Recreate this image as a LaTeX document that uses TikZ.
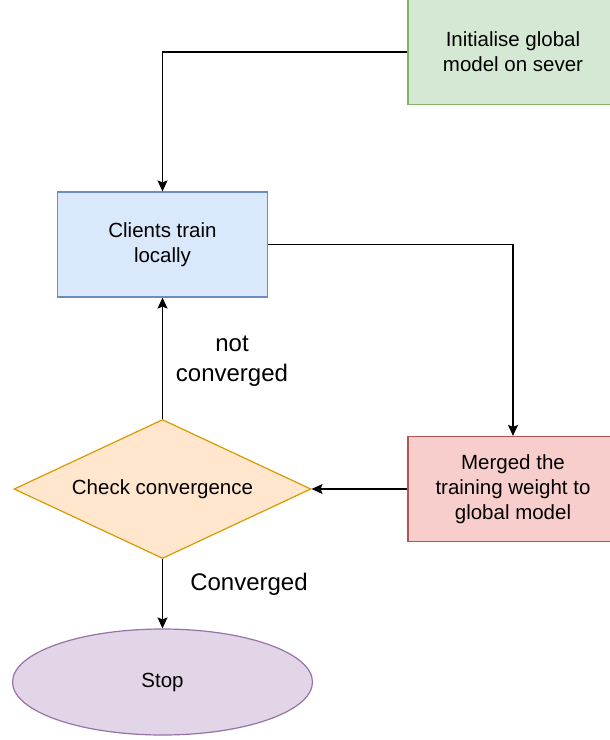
\documentclass[tikz,border=0pt]{standalone}
\usepackage{fontspec}
\setmainfont{Liberation Sans}
\usetikzlibrary{shapes.geometric,arrows.meta}

\definecolor{initfill}{HTML}{D5E8D4}
\definecolor{initline}{HTML}{82B366}
\definecolor{clientfill}{HTML}{DAE8FC}
\definecolor{clientline}{HTML}{6C8EBF}
\definecolor{mergefill}{HTML}{F8CECC}
\definecolor{mergeline}{HTML}{B85450}
\definecolor{checkfill}{HTML}{FFE6CC}
\definecolor{checkline}{HTML}{D79B00}
\definecolor{stopfill}{HTML}{E1D5E7}
\definecolor{stopline}{HTML}{9673A6}

\tikzset{
    stepbox/.style={rectangle, draw, line width=1.2pt, minimum width=210pt, minimum height=105pt,
        inner sep=0pt, align=center, font=\fontsize{20.5}{25}\selectfont},
    decision/.style={diamond, draw=checkline, fill=checkfill, line width=1.2pt, aspect=2.14,
        minimum width=297pt, minimum height=139pt, inner sep=0pt, font=\fontsize{20.5}{25}\selectfont},
    endnode/.style={ellipse, draw=stopline, fill=stopfill, line width=1.2pt,
        minimum width=300pt, minimum height=106pt, inner sep=0pt, font=\fontsize{20.5}{25}\selectfont},
    edgelabel/.style={align=center, font=\fontsize{24}{30}\selectfont},
    flow/.style={line width=1.2pt, -{Stealth[length=11pt,width=10pt,inset=2pt]}}
}

\begin{document}
\begin{tikzpicture}[x=1pt, y=-1pt]
    \clip (0, 0) rectangle (610, 740);
    \fill[white] (0, 0) rectangle (610, 740);

    % boxes
    \node[stepbox, draw=initline, fill=initfill] (init) at (513, 52) {Initialise global\\model on sever};
    \node[stepbox, draw=clientline, fill=clientfill] (clients) at (162.5, 244.5) {Clients train\\locally};
    \node[stepbox, draw=mergeline, fill=mergefill] (merged) at (513, 489) {Merged the\\training weight to\\global model};

    % decision and end
    \node[decision] (check) at (162.5, 489) {Check convergence};
    \node[endnode] (stop) at (162.5, 682) {Stop};

    % labels
    \node[edgelabel] (notconv) at (232, 361) {not\\converged};
    \node[edgelabel] (conv) at (249, 584) {Converged};

    % connectors
    \draw[flow] (init.west) -| (clients.north);
    \draw[flow] (clients.east) -| (merged.north);
    \draw[flow] (merged.west) -- (check.east);
    \draw[flow] (check.north) -- (clients.south);
    \draw[flow] (check.south) -- (stop.north);
\end{tikzpicture}
\end{document}
